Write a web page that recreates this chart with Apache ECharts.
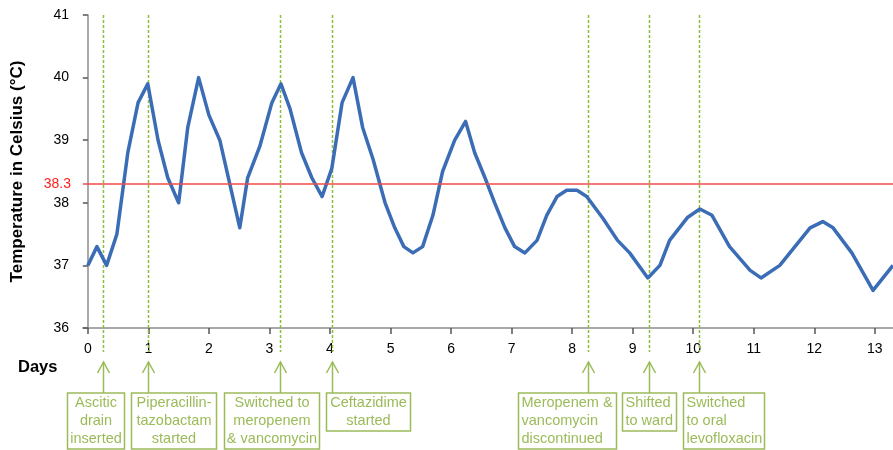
<!DOCTYPE html>
<html>
<head>
<meta charset="utf-8">
<script src="https://cdn.jsdelivr.net/npm/echarts@6/dist/echarts.min.js"></script>
<style>html,body{margin:0;padding:0;background:#fff}#c{width:893px;height:450px}</style>
</head>
<body>
<div id="c"></div>
<script>
// ---- data ----
const days = [0.00,0.15,0.31,0.48,0.66,0.83,0.99,1.16,1.32,1.50,1.65,1.83,2.00,2.18,2.51,2.64,2.84,3.04,3.19,3.34,3.53,3.70,3.87,4.03,4.20,4.38,4.54,4.71,4.91,5.07,5.22,5.37,5.53,5.70,5.86,6.06,6.24,6.39,6.56,6.72,6.89,7.05,7.22,7.42,7.58,7.75,7.91,8.08,8.24,8.51,8.75,8.95,9.25,9.45,9.61,9.91,10.11,10.31,10.60,10.94,11.12,11.43,11.93,12.14,12.31,12.62,12.97,13.30];
const temps = [37.0,37.3,37.0,37.5,38.8,39.6,39.9,39.0,38.4,38.0,39.2,40.0,39.4,39.0,37.6,38.4,38.9,39.6,39.9,39.5,38.8,38.4,38.1,38.55,39.6,40.0,39.2,38.7,38.0,37.6,37.3,37.2,37.3,37.8,38.5,39.0,39.3,38.8,38.4,38.0,37.6,37.3,37.2,37.4,37.8,38.1,38.2,38.2,38.1,37.75,37.4,37.2,36.8,37.0,37.4,37.77,37.9,37.8,37.3,36.92,36.8,37.0,37.6,37.7,37.6,37.2,36.6,37.0];
const dayTicks = [0,1,2,3,4,5,6,7,8,9,10,11,12,13];
const feverThreshold = 38.3;
const eventDays = [0.25, 1.0, 3.17, 4.03, 8.26, 9.27, 10.1];
const eventLabels = [
  'Ascitic\ndrain\ninserted',
  'Piperacillin-\ntazobactam\nstarted',
  'Switched to\nmeropenem\n& vancomycin',
  'Ceftazidime\nstarted',
  'Meropenem &\nvancomycin\ndiscontinued',
  'Shifted\nto ward',
  'Switched\nto oral\nlevofloxacin'
];
// ---- layout of annotation boxes (pixels relative to arrow) ----
const boxOffset = [-36, -17, -56, -6, -70, -27, -16];
const boxWidth  = [57, 85, 95, 84, 98, 54, 81];
const boxAlign  = ['center','center','center','center','left','left','left'];

const FONT = '"Liberation Sans", Arial, sans-serif';
const GREEN = '#9bbb59';
const chart = echarts.init(document.getElementById('c'));

chart.setOption({
  animation: false,
  backgroundColor: '#fff',
  grid: { left: 83, right: 0, top: 15, bottom: 122, containLabel: false },
  xAxis: {
    type: 'value', min: -0.08, max: 13.3,
    splitLine: { show: false },
    axisLine: { show: true, onZero: false, lineStyle: { color: '#8c8c8c', width: 1.5 } },
    axisTick: { show: true, length: 6, customValues: dayTicks, lineStyle: { color: '#555', width: 1.5 } },
    axisLabel: { customValues: dayTicks, margin: 14, color: '#000', fontSize: 14, fontFamily: FONT }
  },
  yAxis: {
    type: 'value', min: 36, max: 41, interval: 1,
    name: 'Temperature in Celsius (°C)', nameLocation: 'middle', nameGap: 57,
    nameTextStyle: { color: '#000', fontSize: 17, fontWeight: 'bold', fontFamily: FONT },
    splitLine: { show: false },
    axisLine: { show: true, lineStyle: { color: '#8c8c8c', width: 1.5 } },
    axisTick: { show: true, length: 5, lineStyle: { color: '#555', width: 1.5 } },
    axisLabel: { margin: 14, color: '#000', fontSize: 14, fontFamily: FONT }
  },
  graphic: [{
    type: 'text', left: 18, top: 359,
    style: { text: 'Days', fill: '#000', font: 'bold 16.5px ' + FONT }
  }],
  series: [
    {
      type: 'custom', z: 1, clip: false, silent: true,
      data: eventDays.map(d => [d]),
      encode: { x: 0 },
      renderItem: function (params, api) {
        const i = params.dataIndex;
        const d = api.value(0);
        const top = api.coord([d, 41]);
        const base = api.coord([d, 36]);
        const x = Math.round(top[0]) + 0.5;
        const ay = base[1];
        const nLines = eventLabels[i].split('\n').length;
        const bx = x + boxOffset[i];
        const by = ay + 65;
        const bh = nLines * 18 + 2;
        const tx = boxAlign[i] === 'center' ? bx + boxWidth[i] / 2 : bx + 3;
        return {
          type: 'group',
          children: [
            { type: 'line', shape: { x1: x, y1: top[1], x2: x, y2: ay + 24 },
              style: { stroke: '#8dbb3a', lineWidth: 1.5, lineDash: [3, 2] } },
            { type: 'polyline', shape: { points: [[x - 6, ay + 45], [x, ay + 34], [x + 6, ay + 45]] },
              style: { stroke: GREEN, lineWidth: 1.5, fill: null } },
            { type: 'line', shape: { x1: x, y1: ay + 34, x2: x, y2: by },
              style: { stroke: GREEN, lineWidth: 1.5 } },
            { type: 'rect', shape: { x: bx, y: by, width: boxWidth[i], height: bh },
              style: { stroke: GREEN, lineWidth: 1.5, fill: '#fff' } },
            { type: 'text', style: { text: eventLabels[i], x: tx, y: by + 1, align: boxAlign[i],
              verticalAlign: 'top', fill: GREEN, font: '14.5px ' + FONT, lineHeight: 18 } }
          ]
        };
      }
    },
    {
      type: 'line', z: 2, data: [], silent: true,
      markLine: {
        silent: true, symbol: 'none',
        lineStyle: { color: '#f04a4a', width: 1.5, type: 'solid' },
        label: { show: true, position: 'start', distance: 12, formatter: String(feverThreshold),
                 color: '#ff2020', fontSize: 14, fontFamily: FONT },
        data: [{ yAxis: feverThreshold }]
      }
    },
    {
      type: 'line', z: 3, showSymbol: false, symbol: 'none',
      data: days.map((d, i) => [d, temps[i]]),
      lineStyle: { color: '#3a6db5', width: 3.5, join: 'round' },
      itemStyle: { color: '#3a6db5' }
    }
  ]
});
</script>
</body>
</html>
